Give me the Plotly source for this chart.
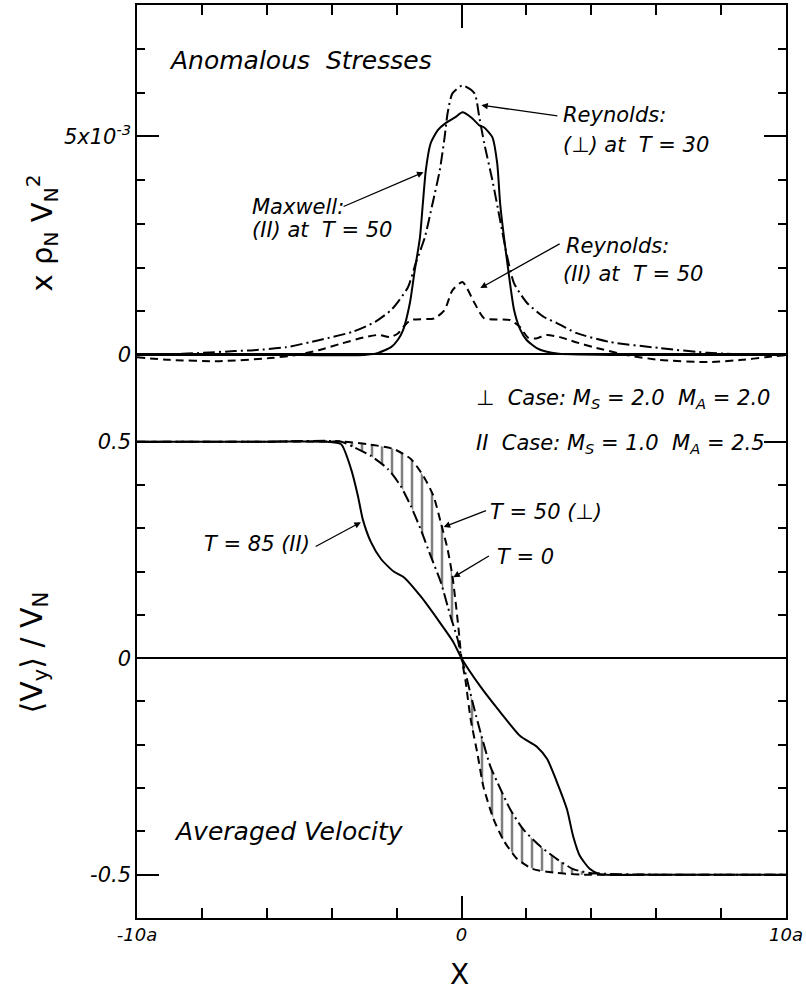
import plotly.graph_objects as go

# ---------------- data: top panel (units of 1e-3 rho_N V_N^2) ----------------
maxwell_par_x = [-10, -5, -3.0, -2.57, -2.17, -1.96, -1.8, -1.59, -1.44, -1.28, -1.19, -1.1,
                 -0.95, -0.73, -0.49, -0.2, 0.03, 0.3, 0.55, 0.7, 0.95, 1.1, 1.19, 1.31,
                 1.47, 1.62, 1.8, 2.0, 2.32, 2.6, 3.0, 5, 10]
maxwell_par_y = [0, 0, 0, 0.05, 0.18, 0.35, 0.57, 1.19, 1.94, 2.69, 3.47, 4.22,
                 4.84, 5.14, 5.3, 5.43, 5.55, 5.43, 5.25, 5.2, 4.98, 4.38, 3.47, 2.69,
                 1.78, 1.03, 0.6, 0.35, 0.16, 0.08, 0.03, 0, 0]

reynolds_perp_x = [-10, -8.6, -7.95, -7.0, -6.4, -5.4, -4.4, -3.36, -2.66, -2.14, -1.65, -1.41,
                   -1.13, -0.89, -0.67, -0.52, -0.43, -0.28, 0.03, 0.4, 0.55, 0.7, 0.95, 1.19,
                   1.41, 1.62, 2.02, 2.54, 2.94, 3.55, 4.56, 6.1, 7.6, 9.1, 10]
reynolds_perp_y = [0, 0.03, 0.05, 0.09, 0.11, 0.18, 0.34, 0.53, 0.76, 1.05, 1.55, 2.1,
                   2.69, 3.47, 4.22, 4.98, 5.52, 5.98, 6.16, 5.98, 5.43, 4.84, 4.0, 3.08,
                   2.24, 1.64, 1.19, 0.87, 0.73, 0.5, 0.3, 0.16, 0.05, 0.01, 0]

reynolds_par_x = [-10, -9.0, -7.46, -5.9, -5.1, -4.4, -3.67, -2.97, -2.55, -2.2, -1.95, -1.8,
                  -1.56, -0.83, -0.52, -0.28, 0.03, 0.4, 0.7, 1.5, 1.8, 2.05, 2.3, 2.63,
                  3.03, 3.5, 4.07, 5.08, 6.1, 7.6, 8.65, 9.36, 10]
reynolds_par_y = [-0.05, -0.11, -0.14, -0.07, 0, 0.11, 0.27, 0.41, 0.46, 0.41, 0.5, 0.64,
                  0.8, 0.84, 1.03, 1.48, 1.67, 1.19, 0.84, 0.8, 0.64, 0.4, 0.38, 0.46,
                  0.41, 0.3, 0.18, 0, -0.11, -0.16, -0.11, -0.05, 0]

# ---------------- data: bottom panel (<V_y>/V_N) ----------------
t85_par_x = [-10, -6, -4.2, -3.71, -3.4, -3.19, -3.04, -2.79, -2.48, -2.09, -1.78, -1.26,
             -0.74, -0.25, 0, 0.58, 1.2, 1.81, 2.33, 2.64, 2.94, 3.25, 3.44, 3.65,
             3.96, 4.26, 6, 10]
t85_par_y = [0.5, 0.5, 0.5, 0.494, 0.436, 0.374, 0.32, 0.268, 0.229, 0.2, 0.187, 0.143,
             0.09, 0.037, 0, -0.065, -0.125, -0.18, -0.205, -0.233, -0.286, -0.349, -0.411, -0.457,
             -0.487, -0.499, -0.5, -0.5]

t0_x = [-10, -6, -3.7, -2.88, -2.09, -1.56, -1.17, -0.86, -0.64, -0.43, -0.28, -0.18,
        -0.09, 0, 0.12, 0.28, 0.49, 0.67, 0.98, 1.29, 1.72, 2.21, 2.94, 3.7, 6, 10]
t0_y = [0.5, 0.5, 0.5, 0.494, 0.483, 0.46, 0.42, 0.374, 0.314, 0.252, 0.19, 0.129,
        0.067, 0, -0.05, -0.14, -0.22, -0.295, -0.37, -0.42, -0.464, -0.487, -0.496, -0.5, -0.5, -0.5]

t50_perp_x = [-10, -6, -3.7, -3.31, -2.79, -2.27, -1.87, -1.56, -1.26, -0.95, -0.64, -0.34,
              -0.12, 0, 0.06, 0.37, 0.58, 0.89, 1.2, 1.5, 1.9, 2.42, 2.94, 3.44, 3.96, 6, 10]
t50_perp_y = [0.5, 0.5, 0.5, 0.487, 0.467, 0.437, 0.397, 0.351, 0.298, 0.236, 0.176, 0.097,
              0.044, 0, -0.016, -0.11, -0.17, -0.25, -0.302, -0.349, -0.395, -0.434, -0.464, -0.487, -0.496, -0.5, -0.5]

x_tick_vals = [-10, 0, 10]
x_tick_text = ["-10a", "0", "10a"]
x_minor_vals = [-8, -6, -4, -2, 2, 4, 6, 8]
top_tick_vals = [0, 5]
top_tick_text = ["0", "5x10<sup>-3</sup>"]
top_minor_vals = [1, 2, 3, 4, 6, 7]
bot_tick_vals = [-0.5, 0, 0.5]
bot_tick_text = ["-0.5", "0", "0.5"]
bot_minor_vals = [-0.4, -0.3, -0.2, -0.1, 0.1, 0.2, 0.3, 0.4]

FONT = "DejaVu Sans"
LW = 2
DASH = "8px,5px"
DASHDOT = "12px,4px,2px,4px"

fig = go.Figure()

# top panel
fig.add_trace(go.Scatter(x=maxwell_par_x, y=maxwell_par_y, mode="lines", xaxis="x", yaxis="y",
                         line=dict(color="black", width=LW, shape="spline", smoothing=0.6)))
fig.add_trace(go.Scatter(x=reynolds_perp_x, y=reynolds_perp_y, mode="lines", xaxis="x", yaxis="y",
                         line=dict(color="black", width=LW, dash=DASHDOT, shape="spline", smoothing=0.6)))
fig.add_trace(go.Scatter(x=reynolds_par_x, y=reynolds_par_y, mode="lines", xaxis="x", yaxis="y",
                         line=dict(color="black", width=LW, dash=DASH, shape="spline", smoothing=0.6)))

# bottom panel
fig.add_trace(go.Scatter(x=t0_x, y=t0_y, mode="lines", xaxis="x2", yaxis="y2",
                         line=dict(color="black", width=LW, dash=DASH, shape="spline", smoothing=0.6)))
fig.add_trace(go.Scatter(x=t50_perp_x, y=t50_perp_y, mode="lines", xaxis="x2", yaxis="y2",
                         fill="tonexty", fillcolor="rgba(0,0,0,0)",
                         fillpattern=dict(shape="|", fgcolor="black", bgcolor="rgba(0,0,0,0)",
                                          size=10, solidity=0.25, fillmode="overlay"),
                         line=dict(color="black", width=LW, dash=DASHDOT, shape="spline", smoothing=0.6)))
fig.add_trace(go.Scatter(x=t85_par_x, y=t85_par_y, mode="lines", xaxis="x2", yaxis="y2",
                         line=dict(color="black", width=LW, shape="spline", smoothing=0.6)))

tickfont = dict(family=FONT, size=21, color="black", style="italic")
axcommon = dict(showgrid=False, showline=True, linecolor="black", linewidth=1.5,
                ticks="inside", tickcolor="black", tickwidth=1.5, tickfont=tickfont,
                ticklabeloverflow="allow", automargin=False)

fig.update_layout(
    width=806, height=991,
    margin=dict(l=137, r=20, t=5, b=73),
    paper_bgcolor="white", plot_bgcolor="rgba(0,0,0,0)",
    showlegend=False,
    xaxis=dict(domain=[0, 1], anchor="y", side="top", range=[-10, 10], zeroline=False,
               tickvals=[0], ticklen=23, showticklabels=False,
               minor=dict(tickvals=x_minor_vals, ticklen=10, ticks="inside",
                          tickcolor="black", tickwidth=1.5),
               **axcommon),
    yaxis=dict(domain=[0.6002, 1], anchor="x", range=[-0.342, 8], zeroline=False,
               mirror="ticks", tickvals=top_tick_vals, ticktext=top_tick_text, ticklen=22,
               minor=dict(tickvals=top_minor_vals, ticklen=8, ticks="inside",
                          tickcolor="black", tickwidth=1.5),
               **axcommon),
    xaxis2=dict(domain=[0, 1], anchor="y2", range=[-10, 10], zeroline=False, mirror=True,
                tickvals=x_tick_vals, ticktext=x_tick_text, ticklen=22,
                minor=dict(tickvals=x_minor_vals, ticklen=10, ticks="inside",
                           tickcolor="black", tickwidth=1.5),
                **{**axcommon, "tickfont": dict(family=FONT, size=18, color="black", style="italic")}),
    yaxis2=dict(domain=[0, 0.6166], anchor="x2", range=[-0.6, 0.7],
                zeroline=True, zerolinecolor="black", zerolinewidth=1.5,
                mirror="ticks", tickvals=bot_tick_vals, ticktext=bot_tick_text, ticklen=22,
                minor=dict(tickvals=bot_minor_vals, ticklen=8, ticks="inside",
                           tickcolor="black", tickwidth=1.5),
                **axcommon),
)

NB = "\u00a0"
ann = []

def txt(x, y, text, size=21, xref="x", yref="y", xanchor="left", **kw):
    ann.append(dict(x=x, y=y, xref=xref, yref=yref, text=text, showarrow=False,
                    xanchor=xanchor, yanchor="middle",
                    font=dict(family=FONT, size=size, color="black", style="italic"), **kw))

def arrow(hx, hy, tx, ty, xref="x", yref="y"):
    ann.append(dict(x=hx, y=hy, ax=tx, ay=ty, xref=xref, yref=yref, axref=xref, ayref=yref,
                    text="", showarrow=True, arrowhead=2, arrowsize=1, arrowwidth=1.3,
                    arrowcolor="black"))

# top panel labels
txt(-9.08, 6.74, "Anomalous" + NB * 2 + "Stresses", size=25)
txt(3.07, 5.48, "Reynolds:")
txt(3.07, 4.79, "(⊥) at" + NB * 2 + "T = 30")
arrow(0.61, 5.71, 3.0, 5.46)
txt(-6.53, 3.38, "Maxwell:")
txt(-6.53, 2.85, "(II) at" + NB * 2 + "T = 50")
arrow(-1.17, 4.18, -3.68, 3.38)
txt(3.16, 2.49, "Reynolds:")
txt(3.07, 1.85, "(II) at" + NB * 2 + "T = 50")
arrow(0.58, 1.53, 3.07, 2.56)

# bottom panel labels
txt(0.37, 0.598, "⊥" + NB + " Case: M<sub>S</sub> = 2.0" + NB * 2 + "M<sub>A</sub> = 2.0",
    xref="x2", yref="y2")
txt(0.37, 0.494, "II" + NB + " Case: M<sub>S</sub> = 1.0" + NB * 2 + "M<sub>A</sub> = 2.5",
    xref="x2", yref="y2")
txt(0.83, 0.337, "T = 50 (⊥)", xref="x2", yref="y2")
arrow(-0.55, 0.303, 0.8, 0.342, xref="x2", yref="y2")
txt(1.04, 0.233, "T = 0", xref="x2", yref="y2")
arrow(-0.25, 0.187, 0.89, 0.238, xref="x2", yref="y2")
txt(-4.6, 0.263, "T = 85 (II)", xref="x2", yref="y2", xanchor="right")
arrow(-3.1, 0.314, -4.54, 0.256, xref="x2", yref="y2")
txt(-8.93, -0.40, "Averaged" + NB + "Velocity", size=25, xref="x2", yref="y2")

# axis titles
ann.append(dict(x=-0.146, y=0.75, xref="paper", yref="paper", textangle=-90,
                text="x ρ<sub>N</sub> V<sub>N</sub><sup>2</sup>", showarrow=False,
                xanchor="center", yanchor="middle",
                font=dict(family=FONT, size=29, color="black")))
ann.append(dict(x=-0.16, y=0.291, xref="paper", yref="paper", textangle=-90,
                text="⟨V<sub>y</sub>⟩ / V<sub>N</sub>", showarrow=False,
                xanchor="center", yanchor="middle",
                font=dict(family=FONT, size=30, color="black")))
ann.append(dict(x=0.497, y=-0.0624, xref="paper", yref="paper",
                text="X", showarrow=False, xanchor="center", yanchor="middle",
                font=dict(family=FONT, size=28, color="black")))

fig.update_layout(annotations=ann)

fig.write_html("out.html")
